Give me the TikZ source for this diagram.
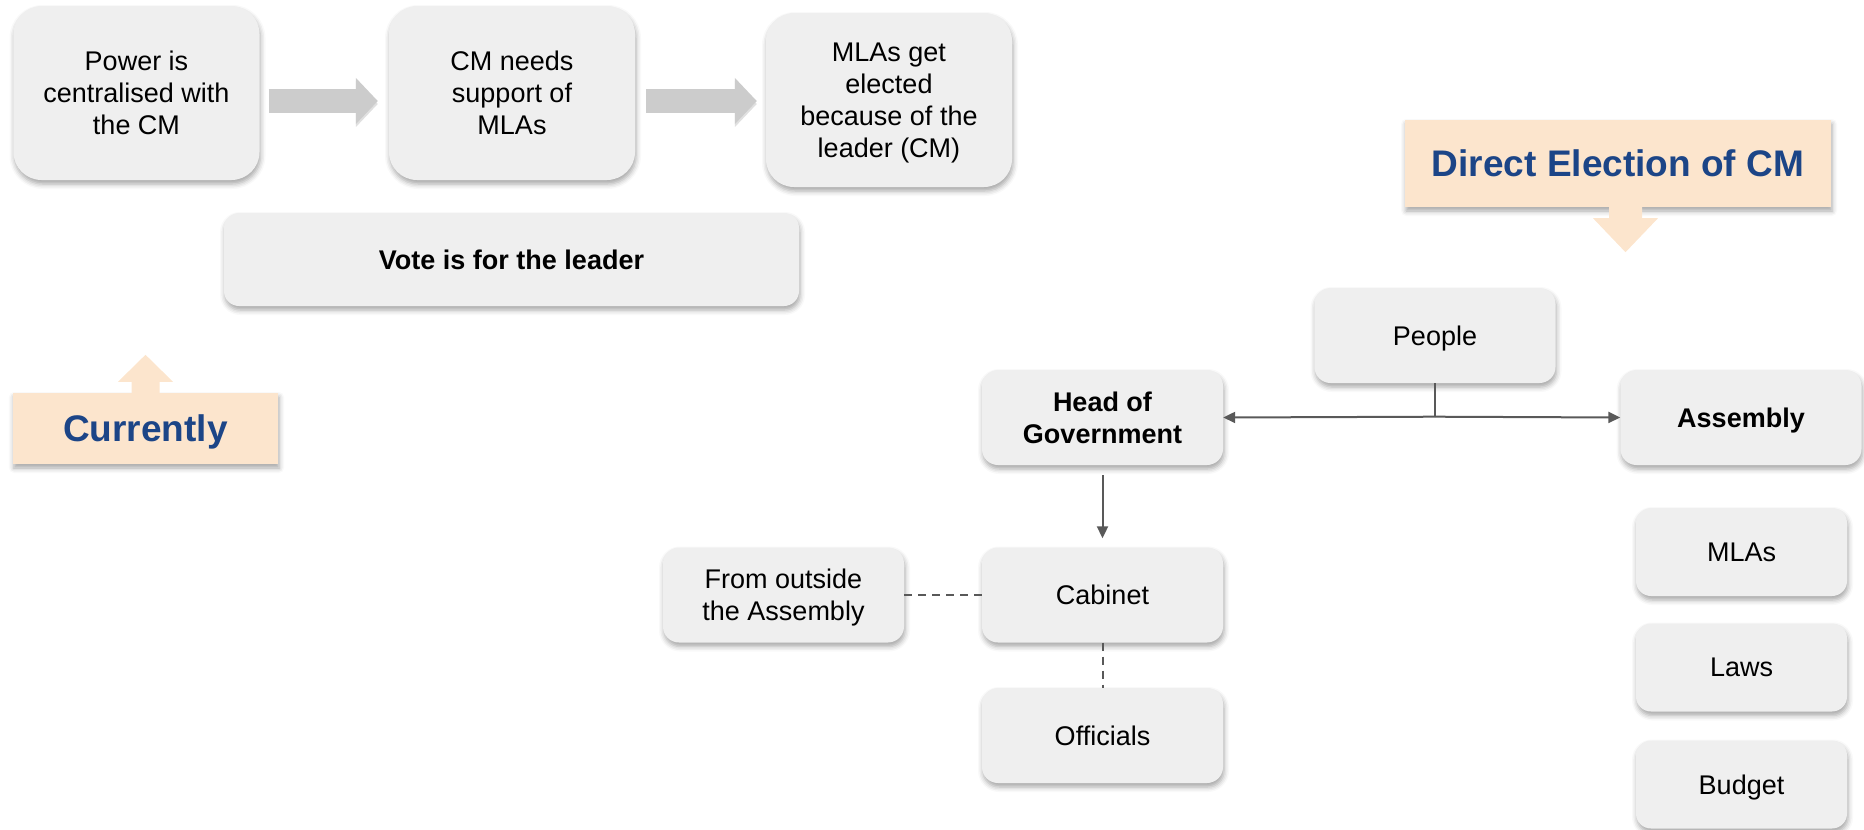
\documentclass[tikz,border=0pt]{standalone}
\usepackage{fontspec}
\setmainfont{Liberation Sans}
\usetikzlibrary{arrows.meta,shadows.blur}

\definecolor{box grey}{HTML}{EFEFEF}
\definecolor{callout peach}{HTML}{FCE5CD}
\definecolor{title blue}{HTML}{1C4587}
\definecolor{link grey}{HTML}{595959}
\definecolor{flow grey}{HTML}{CCCCCC}

\newcommand{\boxtext}{\fontsize{27}{32}\selectfont}
\newcommand{\titletext}{\fontsize{37}{44}\selectfont\bfseries}

\tikzstyle{soft shadow}=[blur shadow={shadow xshift=1pt, shadow yshift=-4pt, shadow blur radius=5pt, shadow opacity=35}]
\tikzstyle{idea}=[rectangle, fill=box grey, align=center, inner sep=0pt, text depth=0pt, font=\boxtext, soft shadow]
\tikzstyle{big idea}=[idea, rounded corners=28pt, minimum width=246pt, minimum height=174pt]
\tikzstyle{wide idea}=[idea, rounded corners=15pt, minimum width=575pt, minimum height=93pt, font=\boxtext\bfseries]
\tikzstyle{branch}=[idea, rounded corners=16pt, minimum width=241pt, minimum height=95pt]
\tikzstyle{leaf}=[idea, rounded corners=15pt, minimum width=211pt, minimum height=88pt]
\tikzstyle{callout}=[rectangle, fill=callout peach, text=title blue, inner sep=0pt, text depth=0pt, font=\titletext, soft shadow]
\tikzstyle{callout tip}=[fill=callout peach]
\tikzstyle{flow}=[draw=flow grey, line width=24pt, -{Triangle[length=22pt, width=45pt]},
	preaction={draw=black, opacity=0.12, transform canvas={yshift=-3pt}}]
\tikzstyle{link}=[draw=link grey, line width=2pt]
\tikzstyle{link arrow}=[link, -{Triangle[length=12pt, width=11pt]}]
\tikzstyle{loose link}=[link, dash pattern=on 8pt off 6pt]

\begin{document}
\begin{tikzpicture}[x=1pt, y=-1pt]
	\useasboundingbox (0,0) rectangle (1864,830);

	% Currently: vote for the leader
	\node[big idea] (power)   at (136.5, 93) {Power is\\centralised with\\the CM};
	\node[big idea] (support) at (512, 93)   {CM needs\\support of\\MLAs};
	\node[big idea] (elected) at (889, 100)  {MLAs get\\elected\\because of the\\leader (CM)};
	\node[wide idea] (vote)   at (511.5, 259.5) {Vote is for the leader};

	\draw[flow] ([xshift=9pt, yshift=-8pt]power.east) -- ([xshift=-11pt, yshift=-8pt]support.west);
	\draw[flow] ([xshift=11pt, yshift=-8pt]support.east) -- ([xshift=-9pt, yshift=-1pt]elected.west);

	\node[callout, minimum width=265pt, minimum height=71pt] (now) at (145.5, 428.5) {Currently};
	\fill[callout tip] ([xshift=-14pt]now.north) -- ++(0,-11) -- ++(-13.5,0) -- ++(27.5,-27)
		-- ++(27.5,27) -- ++(-13.5,0) -- ++(0,11) -- cycle;

	% Direct Election of CM
	\node[callout, minimum width=426pt, minimum height=87pt] (direct) at (1618, 163.5) {Direct Election of CM};
	\fill[callout tip] ([xshift=-9pt]direct.south) -- ++(0,11) -- ++(-16,0) -- ++(32.5,34)
		-- ++(32.5,-34) -- ++(-16,0) -- ++(0,-11) -- cycle;

	\node[branch] (people)    at (1435, 335.5)   {People};
	\node[branch] (head)      at (1102.5, 417.5) {\bfseries Head of\\\bfseries Government};
	\node[branch] (assembly)  at (1741, 417.5)   {\bfseries Assembly};
	\node[branch] (cabinet)   at (1102.5, 595)   {Cabinet};
	\node[branch] (outside)   at (783.5, 595)    {From outside\\the Assembly};
	\node[branch] (officials) at (1102.5, 735.5) {Officials};

	\node[leaf] (mlas)   at (1741.5, 552)   {MLAs};
	\node[leaf] (laws)   at (1741.5, 667.5) {Laws};
	\node[leaf] (budget) at (1741.5, 784.5) {Budget};

	\draw[link] (people.south) -- ++(0,33.5) coordinate (split);
	\draw[link arrow] (split) -- (head.east);
	\draw[link arrow] (split) -- (assembly.west);
	\draw[link arrow] ([yshift=-10pt]head.south) -- ([yshift=9pt]cabinet.north);
	\draw[loose link] (outside.east) -- (cabinet.west);
	\draw[loose link] (cabinet.south) -- (officials.north);
\end{tikzpicture}
\end{document}
